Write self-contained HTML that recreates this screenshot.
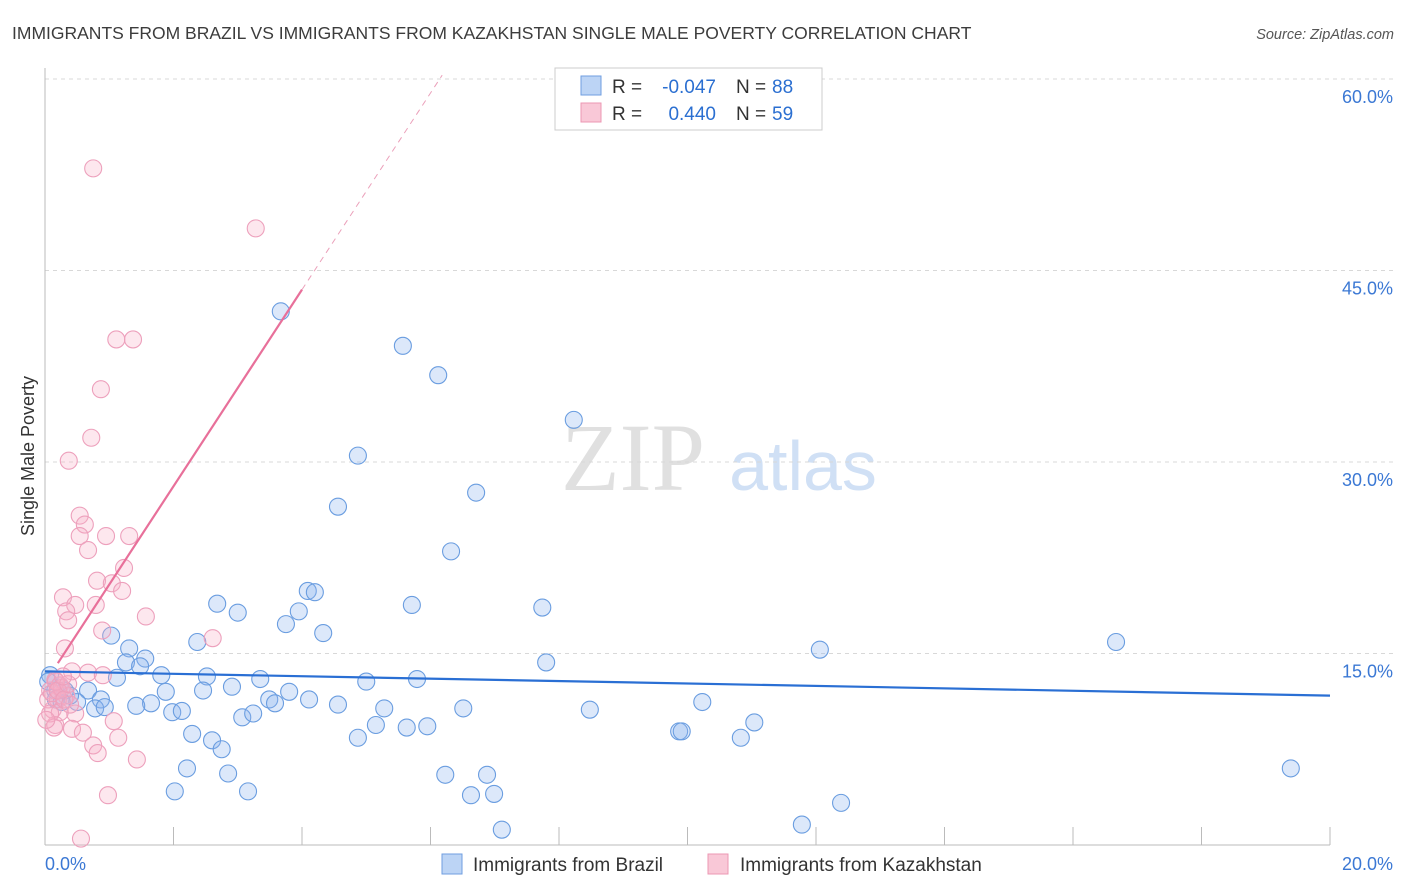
<!DOCTYPE html>
<html><head><meta charset="utf-8"><style>
body{margin:0;background:#fff;font-family:"Liberation Sans",sans-serif;}
#wrap{position:relative;width:1406px;height:892px;overflow:hidden;}
</style></head><body>
<div id="wrap">
<svg id="svg" width="1406" height="892" xmlns="http://www.w3.org/2000/svg">
<text x="12" y="39" font-size="17.5" fill="#3c3c3c">IMMIGRANTS FROM BRAZIL VS IMMIGRANTS FROM KAZAKHSTAN SINGLE MALE POVERTY CORRELATION CHART</text>
<text x="1394" y="39" font-size="14.5" fill="#555" font-style="italic" text-anchor="end">Source: ZipAtlas.com</text>
<text x="34" y="456" font-size="18" fill="#333" text-anchor="middle" transform="rotate(-90 34 456)">Single Male Poverty</text>
<g><text x="633" y="490" font-size="96" font-family="Liberation Serif,serif" fill="#e0e0e0" text-anchor="middle">ZIP</text><text x="803" y="490" font-size="70" fill="#d0e0f5" text-anchor="middle">atlas</text></g>
<g id="grid"></g><g id="axes"></g><g id="pts"></g><g id="lines"></g>
<g>
<rect x="555" y="68" width="267" height="62" fill="#fff" stroke="#ccc"/>
<rect x="581" y="76" width="20" height="19" fill="#bcd4f5" stroke="#6f9ee0"/>
<rect x="581" y="103" width="20" height="19" fill="#f9c8d7" stroke="#ec97b3"/>
<text x="612" y="93" font-size="19" fill="#333">R =</text>
<text x="716" y="93" font-size="19" fill="#2b6fd1" text-anchor="end">-0.047</text>
<text x="736" y="93" font-size="19" fill="#333">N =</text>
<text x="772" y="93" font-size="19" fill="#2b6fd1">88</text>
<text x="612" y="120" font-size="19" fill="#333">R =</text>
<text x="716" y="120" font-size="19" fill="#2b6fd1" text-anchor="end">0.440</text>
<text x="736" y="120" font-size="19" fill="#333">N =</text>
<text x="772" y="120" font-size="19" fill="#2b6fd1">59</text>
</g>
<g>
<rect x="442" y="854" width="20" height="20" fill="#bcd4f5" stroke="#6f9ee0"/>
<text x="473" y="871" font-size="19" fill="#333">Immigrants from Brazil</text>
<rect x="708" y="854" width="20" height="20" fill="#f9c8d7" stroke="#ec97b3"/>
<text x="740" y="871" font-size="19" fill="#333">Immigrants from Kazakhstan</text>
</g>
</svg>
</div>
<script>
const xTicks=[0,2,4,6,8,10,12,14,16,18,20];
const yTicks=[15,30,45,60];
const yTickLabels=["15.0%","30.0%","45.0%","60.0%"];
const xEndLabels=["0.0%","20.0%"];
const brazilX=[3.67,5.57,6.12,8.23,4.87,6.71,4.56,6.32,4.09,4.20,2.68,5.71,7.74,3.00,3.95,3.75,4.33,2.37,1.03,1.31,1.56,1.26,1.81,1.48,7.80,12.06,16.67,2.52,1.12,3.35,5.00,5.79,2.91,1.88,2.46,3.80,0.67,0.87,3.49,4.11,3.58,1.65,1.42,0.50,0.78,0.93,4.56,5.28,6.51,8.48,10.23,1.98,2.13,3.07,3.24,5.15,5.63,5.95,11.04,9.87,9.91,2.29,2.60,2.75,4.87,10.83,2.21,2.85,6.23,6.88,2.02,3.16,6.63,6.99,12.39,7.11,11.78,19.39,0.08,0.16,0.23,0.31,0.39,0.05,0.17,0.26];
const brazilY=[41.8,39.1,36.8,33.3,30.5,27.6,26.5,23.0,19.9,19.8,18.9,18.8,18.6,18.2,18.3,17.3,16.6,15.9,16.4,15.4,14.6,14.3,13.3,14.0,14.3,15.3,15.9,13.2,13.1,13.0,12.8,13.0,12.4,12.0,12.1,12.0,12.1,11.4,11.4,11.4,11.1,11.1,10.9,11.2,10.7,10.8,11.0,10.7,10.7,10.6,11.2,10.4,10.5,10.0,10.3,9.4,9.2,9.3,9.6,8.9,8.9,8.7,8.2,7.5,8.4,8.4,6.0,5.6,5.5,5.5,4.2,4.2,3.9,4.0,3.3,1.2,1.6,6.0,13.3,12.1,12.5,12.1,11.7,12.8,11.4,11.2];
const kazX=[0.75,3.28,1.11,1.37,0.87,0.72,0.37,0.54,0.62,0.54,1.31,0.95,0.67,1.23,0.81,1.04,1.20,0.28,0.47,0.79,0.33,0.36,1.57,2.61,0.89,0.31,0.42,0.67,0.90,0.16,0.23,0.08,0.33,0.20,0.12,0.47,0.23,1.07,0.16,0.42,0.59,0.75,0.82,1.14,1.43,0.98,0.56,0.05,0.11,0.26,0.17,0.20,0.30,0.39,0.08,0.14,0.02,0.36,0.28];
const kazY=[53.0,48.3,39.6,39.6,35.7,31.9,30.1,25.8,25.1,24.2,24.2,24.2,23.1,21.7,20.7,20.5,19.9,19.4,18.8,18.8,18.3,17.6,17.9,16.2,16.8,15.4,13.6,13.5,13.3,12.9,12.5,12.1,11.7,11.4,10.6,10.3,10.4,9.7,9.4,9.1,8.8,7.8,7.2,8.4,6.7,3.9,0.5,11.4,11.9,12.3,12.8,12.1,11.4,11.0,10.3,9.2,9.8,12.6,13.2];
const brazilTrend=[13.6,11.7];
const kazTrend=[12.7,7.7];
const NS="http://www.w3.org/2000/svg";
const X=v=>45+v/20*1285, Y=v=>845-v/15*191.5;
function mk(tag,at,parent){const e=document.createElementNS(NS,tag);for(const k in at)e.setAttribute(k,at[k]);document.getElementById(parent).appendChild(e);return e;}
yTicks.forEach((t,i)=>{
 const g=mk('line',{x1:45,x2:1393,y1:Y(t),y2:Y(t),stroke:'#d8d8d8','stroke-dasharray':'4 4'},'grid');
 
 
 const l=mk('text',{x:1393,y:Y(t)+24,'font-size':18,fill:'#3b78d4','text-anchor':'end'},'grid');
 l.textContent=yTickLabels[i];
 
 
});
const ax=mk('line',{x1:45,x2:45,y1:68,y2:845,stroke:'#bbb'},'axes');


const bx=mk('line',{x1:45,x2:1330,y1:845,y2:845,stroke:'#bbb'},'axes');


xTicks.forEach(t=>{const e=mk('line',{x1:X(t),x2:X(t),y1:827,y2:845,stroke:'#bbb'},'axes');
 
 });
[[0,'start',45],[20,'end',1393]].forEach((d,i)=>{const e=mk('text',{x:d[2],y:870,'font-size':18,fill:'#3b78d4','text-anchor':d[1]},'axes');e.textContent=xEndLabels[i];
 
 });
brazilX.forEach((v,i)=>{const c=mk('circle',{cx:X(v),cy:Y(brazilY[i]),r:8.5,fill:'rgba(140,180,240,0.3)',stroke:'#6a9de0','stroke-width':1.1},'pts');
 
 });
kazX.forEach((v,i)=>{const c=mk('circle',{cx:X(v),cy:Y(kazY[i]),r:8.5,fill:'rgba(247,175,200,0.3)',stroke:'#eda0bc','stroke-width':1.1},'pts');
 
 });
const bl=mk('line',{x1:X(0),y1:Y(brazilTrend[0]),x2:X(20),y2:Y(brazilTrend[1]),stroke:'#2a6fd4','stroke-width':2.2},'lines');


const kf=x=>kazTrend[0]+kazTrend[1]*x;
const xEnd=(60.3-kazTrend[0])/kazTrend[1];
const kl=mk('line',{x1:X(0.2),y1:Y(kf(0.2)),x2:X(4.0),y2:Y(kf(4.0)),stroke:'#e8709a','stroke-width':2.2},'lines');


const kd=mk('line',{x1:X(4.0),y1:Y(kf(4.0)),x2:X(xEnd),y2:Y(kf(xEnd)),stroke:'#eba0ba','stroke-width':1,'stroke-dasharray':'6 5'},'lines');


</script>
</body></html>
